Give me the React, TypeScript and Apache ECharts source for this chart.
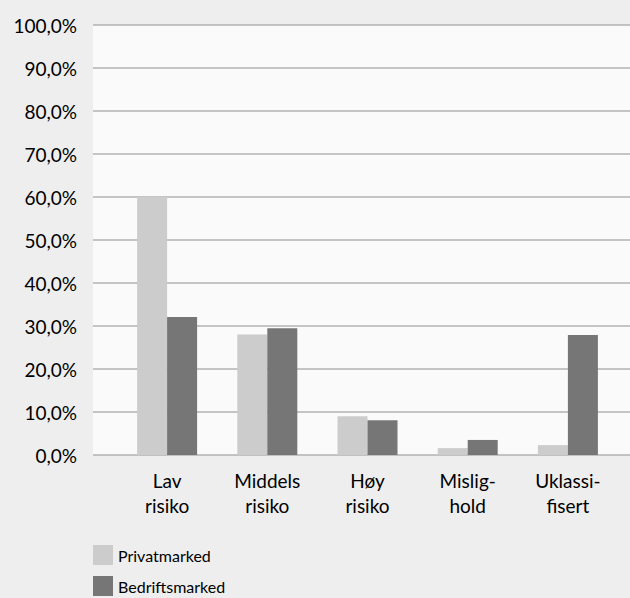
import React, { useEffect, useRef } from "react";
import * as echarts from "echarts";

const categories = ["Lav\nrisiko", "Middels\nrisiko", "Høy\nrisiko", "Mislig-\nhold", "Uklassi-\nfisert"];
const privatmarked = [60.0, 28.0, 9.0, 1.6, 2.3];
const bedriftsmarked = [32.1, 29.5, 8.1, 3.5, 27.9];
const seriesNames = ["Privatmarked", "Bedriftsmarked"];

const FONT = "Lato, 'Open Sans', sans-serif";

export default function App() {
  const ref = useRef<HTMLDivElement>(null);
  useEffect(() => {
    document.body.style.margin = "0";
    const chart = echarts.init(ref.current!, null, { renderer: "svg" });
    chart.setOption({
      animation: false,
      backgroundColor: "#eeeeee",
      textStyle: { fontFamily: FONT, color: "#000" },
      grid: [
        { left: 93, right: 0, top: 25, bottom: 143, show: true, backgroundColor: "#fafafa", borderWidth: 0 },
        { left: 117, right: 12, top: 25, bottom: 143 },
      ],
      xAxis: [
        { gridIndex: 0, type: "category", data: ["a"], show: false },
        {
          gridIndex: 1,
          type: "category",
          data: categories,
          axisLine: { show: false },
          axisTick: { show: false },
          axisLabel: { color: "#000", fontFamily: FONT, fontSize: 19, lineHeight: 25, margin: 13 },
        },
      ],
      yAxis: [
        {
          gridIndex: 0,
          type: "value",
          min: 0,
          max: 100,
          interval: 10,
          axisLine: { show: false },
          axisTick: { show: false },
          splitLine: { lineStyle: { color: "#b2b2b2", width: 1.5 } },
          axisLabel: {
            color: "#000",
            fontFamily: FONT,
            fontSize: 19,
            margin: 16,
            formatter: (v: number) => v.toFixed(1).replace(".", ",") + "%",
          },
        },
        { gridIndex: 1, type: "value", min: 0, max: 100, show: false },
      ],
      legend: {
        orient: "vertical",
        left: 93,
        top: 545,
        height: 60,
        itemWidth: 20,
        itemHeight: 20,
        itemGap: 11,
        icon: "rect",
        padding: 0,
        data: seriesNames,
        textStyle: { color: "#000", fontFamily: FONT, fontSize: 16 },
      },
      series: [
        {
          name: seriesNames[0],
          type: "bar",
          xAxisIndex: 1,
          yAxisIndex: 1,
          data: privatmarked,
          barWidth: 30,
          barGap: "0%",
          itemStyle: { color: "#cccccc" },
        },
        {
          name: seriesNames[1],
          type: "bar",
          xAxisIndex: 1,
          yAxisIndex: 1,
          data: bedriftsmarked,
          barWidth: 30,
          barGap: "0%",
          itemStyle: { color: "#767676" },
        },
      ],
    });
    return () => chart.dispose();
  }, []);
  return <div ref={ref} style={{ width: 630, height: 598 }} />;
}
